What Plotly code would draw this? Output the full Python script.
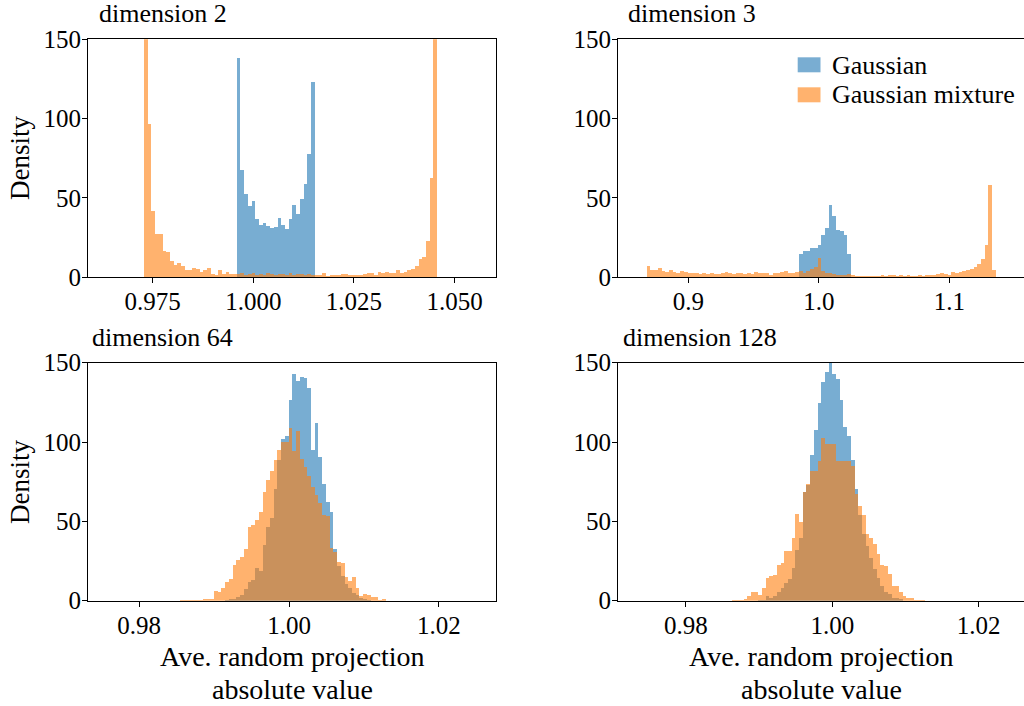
import plotly.graph_objects as go

W, H = 1024, 706

# ---------------- data (density values) ----------------
# dimension 2
P1_BIN_START = 0.97284
P1_BIN_WIDTH = 0.000922
P1_GAUSS_OFFSET = 25
P1_GAUSSIAN = [138.2, 67.7, 52.1, 45.0, 48.1, 36.8, 33.0, 34.2, 32.4, 31.1, 31.7,
               37.4, 33.0, 30.5, 36.8, 45.6, 39.9, 49.4, 58.8, 77.7, 123.1]
P1_MIXTURE = [200, 96.6, 41.8, 27.3, 27.3, 16.6, 16.0, 10.3, 7.4, 9.0, 7.1, 4.6, 4.6,
              5.9, 5.3, 3.4, 4.2, 5.9, 2.1, 1.3, 4.6, 2.1, 3.4, 2.1, 2.1,
              2.1, 2.3, 1.5, 2.1, 2.5, 1.3, 1.7, 1.3, 2.5, 1.7, 1.3, 1.9, 2.1, 1.5,
              2.3, 1.5, 2.1, 1.7, 1.3, 2.1, 1.5,
              0.8, 0.8, 2.7, 0.4, 1.5, 0.8, 1.5, 2.1, 2.1, 1.5, 1.5, 1.5, 1.5, 2.1,
              2.3, 2.7, 1.5, 3.4, 2.3, 3.4, 2.7, 2.7, 4.6, 2.7, 3.2, 4.6, 5.3, 7.1,
              11.6, 12.8, 22.9, 62.6, 200]

# dimension 3
P2_BIN_START = 0.86798
P2_BIN_WIDTH = 0.002846
P2_GAUSS_OFFSET = 41
P2_GAUSSIAN = [14.5, 16.4, 16.4, 18.3, 18.3, 20.2, 26.5, 30.9, 45.4, 38.5, 29.7,
               29.0, 26.5, 14.5]
P2_MIXTURE = [6.9, 4.4, 4.4, 5.7, 3.8, 3.2, 4.4, 3.2, 2.5, 3.8, 3.2, 2.5, 2.5, 2.5,
              2.1, 2.5, 2.1, 2.5, 1.7, 2.1, 2.5, 3.2, 2.5, 2.1, 2.5, 2.5, 2.1, 2.5,
              2.1, 3.2, 2.5, 2.5, 2.5, 1.3, 2.5, 2.5, 3.2, 3.8, 2.5, 2.5, 3.2, 3.8,
              2.5, 3.8, 5.0, 6.3, 12.0, 3.8, 2.5, 2.5, 1.9, 1.3, 1.3, 1.3, 1.9, 1.3,
              0.6, 0.6, 0.6, 0.6, 0.6, 0.6, 0.6, 1.3, 0.6, 1.3, 1.3, 0.6, 1.3, 0.6,
              1.3, 0.6, 0.6, 1.3, 0.6, 1.3, 1.3, 1.3, 2.1, 2.5, 2.1, 1.3, 3.2, 2.5,
              3.2, 3.8, 4.4, 5.0, 6.3, 8.2, 11.4, 20.2, 58.0, 4.4]

# dimension 64
P3_BIN_START = 0.985505
P3_BIN_WIDTH = 0.000498
P3_GAUSS_OFFSET = 12
P3_GAUSSIAN = [0.5, 1.0, 1.0, 2.5, 3.6, 7.4, 12.0, 13.0, 21.0, 18.7, 35.1, 46.6,
               52.5, 70.4, 88.7, 102.1, 103.8, 126.5, 142.9, 138.5, 141.2, 140.8,
               134.3, 95.4, 112.2, 90.8, 74.0, 62.6, 55.9, 33.0, 22.0, 16.0, 11.0,
               8.0, 5.0, 3.5, 2.0, 1.2, 0.5]
P3_MIXTURE = [0.4, 0.2, 0.4, 0.4, 0.6, 0.4, 1.0, 1.0, 1.0, 6.3, 5.7, 8.0, 12.0,
              13.7, 22.5, 26.1, 28.0, 33.0, 46.6, 47.9, 50.8, 55.9, 68.5, 76.1,
              81.7, 89.1, 94.9, 100.0, 100.2, 109.0, 94.5, 107.2, 89.5, 84.5, 78.8,
              71.9, 66.8, 61.8, 54.2, 53.6, 33.6, 30.9, 24.6, 24.0, 15.1, 12.6,
              15.1, 8.2, 3.2, 4.4, 3.8, 2.5, 2.5, 0.6, 1.3]

# dimension 128
P4_BIN_START = 0.98635
P4_BIN_WIDTH = 0.0005057
P4_GAUSS_OFFSET = 7
P4_GAUSSIAN = [0.6, 0.6, 2.9, 1.7, 2.9, 5.9, 8.4, 11.4, 13.7, 21.1, 32.4, 40.0,
               68.7, 73.3, 92.3, 107.5, 124.7, 137.8, 144.1, 150.0, 143.3, 139.9,
               126.8, 109.6, 103.7, 88.9, 70.6, 54.4, 42.1, 34.6, 27.4, 20.2, 14.7,
               9.3, 5.9, 4.2, 2.1, 1.7, 0.8]
P4_MIXTURE = [0.4, 0.6, 0.6, 1.3, 2.9, 5.9, 5.9, 4.0, 8.0, 14.3, 15.8, 16.6, 22.8,
              23.8, 31.6, 31.6, 39.6, 54.8, 50.1, 68.7, 73.7, 82.0, 82.0, 88.0,
              102.8, 99.0, 99.0, 99.0, 88.5, 88.5, 88.5, 88.5, 85.3, 67.4, 59.8,
              54.4, 42.1, 40.0, 36.2, 29.5, 22.8, 22.3, 16.9, 9.3, 9.3, 5.9, 2.9,
              1.7, 1.7, 0.6, 0.4, 0.4]

TITLES = ["dimension 2", "dimension 3", "dimension 64", "dimension 128"]
SERIES_NAMES = ["Gaussian", "Gaussian mixture"]
Y_TICKS = [0, 50, 100, 150]
X_TICKS = [
    [0.975, 1.000, 1.025, 1.050],
    [0.9, 1.0, 1.1],
    [0.98, 1.00, 1.02],
    [0.98, 1.00, 1.02],
]
X_TICK_LABELS = [
    ["0.975", "1.000", "1.025", "1.050"],
    ["0.9", "1.0", "1.1"],
    ["0.98", "1.00", "1.02"],
    ["0.98", "1.00", "1.02"],
]
X_LABEL_1 = "Ave. random projection"
X_LABEL_2 = "absolute value"
Y_LABEL = "Density"

# ---------------- layout / style ----------------
FONT = "Liberation Serif"
BLUE = "#1f77b4"
ORANGE = "#ff7f0e"

panels = [
    dict(start=P1_BIN_START, width=P1_BIN_WIDTH, off=P1_GAUSS_OFFSET,
         g=P1_GAUSSIAN, m=P1_MIXTURE, xr=[0.95892, 1.06031],
         px=(88, 496), py=(39.3, 277.3), mirror=True),
    dict(start=P2_BIN_START, width=P2_BIN_WIDTH, off=P2_GAUSS_OFFSET,
         g=P2_GAUSSIAN, m=P2_MIXTURE, xr=[0.8460, 1.15709],
         px=(618, 1024), py=(39.3, 277.3), mirror=False),
    dict(start=P3_BIN_START, width=P3_BIN_WIDTH, off=P3_GAUSS_OFFSET,
         g=P3_GAUSSIAN, m=P3_MIXTURE, xr=[0.97316, 1.02764],
         px=(88, 496), py=(362.7, 600.7), mirror=True),
    dict(start=P4_BIN_START, width=P4_BIN_WIDTH, off=P4_GAUSS_OFFSET,
         g=P4_GAUSSIAN, m=P4_MIXTURE, xr=[0.97071, 1.02620],
         px=(618, 1024), py=(362.7, 600.7), mirror=False),
]


def centers(start, width, offset, n):
    return [start + width * (offset + i + 0.5) for i in range(n)]


fig = go.Figure()
layout = dict(
    width=W, height=H, autosize=False,
    margin=dict(l=0, r=0, t=0, b=0, pad=0, autoexpand=False),
    paper_bgcolor="white", plot_bgcolor="white",
    barmode="overlay", bargap=0, showlegend=False,
    font=dict(family=FONT, size=25, color="black"),
)

for k, p in enumerate(panels):
    sfx = "" if k == 0 else str(k + 1)
    xa, ya = "x" + sfx, "y" + sfx
    fig.add_trace(go.Bar(
        x=centers(p["start"], p["width"], p["off"], len(p["g"])), y=p["g"],
        width=p["width"], name=SERIES_NAMES[0], opacity=0.6,
        marker=dict(color=BLUE, line=dict(width=0)), xaxis=xa, yaxis=ya))
    fig.add_trace(go.Bar(
        x=centers(p["start"], p["width"], 0, len(p["m"])), y=p["m"],
        width=p["width"], name=SERIES_NAMES[1], opacity=0.6,
        marker=dict(color=ORANGE, line=dict(width=0)), xaxis=xa, yaxis=ya))
    common = dict(showline=True, linecolor="black", linewidth=1.2,
                  ticks="outside", ticklen=5, tickwidth=1.2, tickcolor="black",
                  showgrid=False, zeroline=False, automargin=False,
                  tickfont=dict(family=FONT, size=25, color="black"))
    layout["xaxis" + sfx] = dict(
        domain=[p["px"][0] / W, p["px"][1] / W], range=p["xr"],
        tickvals=X_TICKS[k], ticktext=X_TICK_LABELS[k], mirror=True,
        ticklabelstandoff=-3, anchor=ya, **common)
    layout["yaxis" + sfx] = dict(
        domain=[1 - p["py"][1] / H, 1 - p["py"][0] / H], range=[0, 150],
        tickvals=Y_TICKS, ticktext=[str(v) for v in Y_TICKS],
        mirror=p["mirror"], ticklabelstandoff=-4, anchor=xa, **common)

fig.update_layout(**layout)


def ann(text, x, y, size, xanchor="center", angle=0):
    fig.add_annotation(text=text, xref="paper", yref="paper", x=x / W, y=1 - y / H,
                       xanchor=xanchor, yanchor="middle", showarrow=False,
                       textangle=angle, font=dict(family=FONT, size=size, color="black"))


# panel titles
ann(TITLES[0], 162.5, 13, 26)
ann(TITLES[1], 692, 13, 26)
ann(TITLES[2], 162.5, 337, 26)
ann(TITLES[3], 699.5, 337, 26)

# y labels
ann(Y_LABEL, 20, 158, 27, angle=-90)
ann(Y_LABEL, 20, 482, 27, angle=-90)

# x labels
for cx in (292, 821):
    ann(X_LABEL_1, cx, 656, 28)
    ann(X_LABEL_2, cx, 689, 28)

# legend (inside the dimension-3 panel)
for i, (col, y0, y1, yc) in enumerate([(BLUE, 57.3, 72.3, 66), (ORANGE, 87.3, 102.3, 95)]):
    fig.add_shape(type="rect", xref="paper", yref="paper",
                  x0=797.7 / W, x1=820.5 / W, y0=1 - y1 / H, y1=1 - y0 / H,
                  fillcolor=col, opacity=0.6, line=dict(width=0))
    ann(SERIES_NAMES[i], 830, yc, 26, xanchor="left")

fig.write_html("out.html")
